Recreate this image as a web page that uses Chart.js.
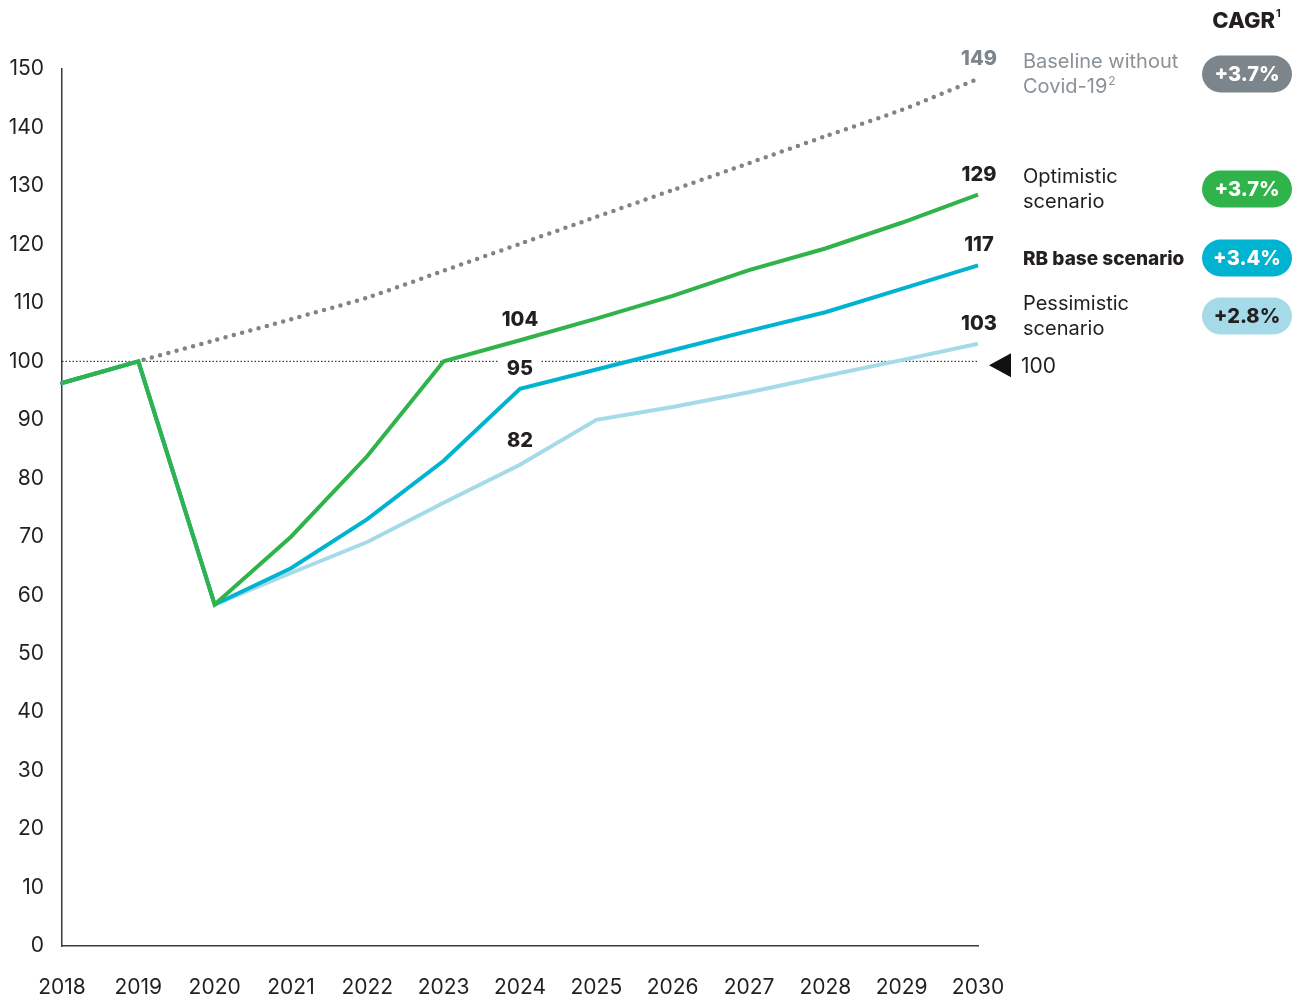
<!DOCTYPE html>
<html>
<head>
<meta charset="utf-8">
<script src="https://cdn.jsdelivr.net/npm/chart.js@4.4.1/dist/chart.umd.min.js"></script>
<style>
  html, body { margin: 0; padding: 0; background: #ffffff; }
  #wrap { width: 1302px; height: 1000px; position: relative; }
</style>
</head>
<body>
<div id="wrap"><canvas id="c" width="1302" height="1000"></canvas></div>
<script>
// ---- data ----
const years = ['2018','2019','2020','2021','2022','2023','2024','2025','2026','2027','2028','2029','2030'];
const baseline    = [96.3, 100, 103.6, 107.2, 110.9, 115.5, 120.1, 124.7, 129.3, 133.9, 138.5, 143.0, 148.3];
const optimistic  = [96.3, 100, 58.4, 70.0, 83.8, 100.0, 103.6, 107.3, 111.2, 115.6, 119.3, 123.7, 128.5];
const rbBase      = [96.3, 100, 58.4, 64.6, 73.0, 83.0, 95.3, 98.6, 101.9, 105.2, 108.4, 112.4, 116.4];
const pessimistic = [96.3, 100, 58.4, 63.8, 69.1, 75.8, 82.3, 90.0, 92.2, 94.7, 97.5, 100.2, 103.0];
const referenceValue = 100;
const yTicks = [0,10,20,30,40,50,60,70,80,90,100,110,120,130,140,150];
const endLabels = ['129','117','103','149'];      // per series at 2030 (optimistic, base, pessimistic, baseline)
const midLabels = ['104','95','82'];             // at 2024 (optimistic, base, pessimistic)
const midLabelIndex = 6;
const seriesNames = ['Baseline without|Covid-19²', 'Optimistic|scenario', 'RB base scenario', 'Pessimistic|scenario'];
const cagrValues = ['+3.7%', '+3.7%', '+3.4%', '+2.8%'];
const cagrTitle = 'CAGR';

// ---- styles ----
const C_GREEN = '#2fb34a';
const C_CYAN = '#00b3d1';
const C_LIGHT = '#a5dbe8';
const C_GRAY = '#7d858c';
const C_TEXT = '#231f20';
const FONT = 'Inter, "Noto Sans", sans-serif';

const labelPlugin = {
  id: 'labels',
  afterDatasetsDraw(chart) {
    const ctx = chart.ctx;
    const ys = chart.scales.y;
    ctx.save();
    ctx.textAlign = 'center';
    ctx.textBaseline = 'middle';
    ctx.font = '800 20px ' + FONT;
    // end labels
    const endColors = [C_TEXT, C_TEXT, C_TEXT, '#7d858c'];
    [0,1,2,3].forEach((di, k) => {
      const meta = chart.getDatasetMeta(di);
      const pt = meta.data[meta.data.length - 1];
      ctx.fillStyle = endColors[k];
      ctx.fillText(endLabels[k], pt.x + 1, pt.y - 20);
    });
    // mid labels with white backing
    [0,1,2].forEach((di, k) => {
      const meta = chart.getDatasetMeta(di);
      const pt = meta.data[midLabelIndex];
      const ty = pt.y - (k === 2 ? 24 : 20);
      const w = ctx.measureText(midLabels[k]).width;
      ctx.fillStyle = '#ffffff';
      ctx.fillRect(pt.x - w/2 - 8, ty - 9, w + 16, 18);
      ctx.fillStyle = C_TEXT;
      ctx.fillText(midLabels[k], pt.x, ty);
    });

    // reference arrow + label
    const y100 = ys.getPixelForValue(referenceValue);
    ctx.fillStyle = '#111111';
    ctx.beginPath();
    ctx.moveTo(989, y100 + 4);
    ctx.lineTo(1011, y100 - 8);
    ctx.lineTo(1011, y100 + 16);
    ctx.closePath();
    ctx.fill();
    ctx.textAlign = 'left';
    ctx.font = '400 21px ' + FONT;
    ctx.fillStyle = C_TEXT;
    ctx.fillText(String(referenceValue), 1021, y100 + 5);

    // CAGR title
    ctx.font = '800 22px ' + FONT;
    ctx.textAlign = 'right';
    ctx.fillText(cagrTitle, 1275, 21);
    ctx.font = '700 11px ' + FONT;
    ctx.textAlign = 'left';
    ctx.fillText('1', 1276, 14);

    // legend rows
    const rows = [
      {y: 74, color: '#8a9197', bold: false, pill: C_GRAY, pillText: '#ffffff'},
      {y: 189, color: C_TEXT, bold: false, pill: C_GREEN, pillText: '#ffffff'},
      {y: 258, color: C_TEXT, bold: true, pill: C_CYAN, pillText: '#ffffff'},
      {y: 316, color: C_TEXT, bold: false, pill: C_LIGHT, pillText: C_TEXT},
    ];
    rows.forEach((r, i) => {
      const lines = seriesNames[i].split('|');
      ctx.fillStyle = r.color;
      ctx.textAlign = 'left';
      ctx.textBaseline = 'middle';
      const f = (r.bold ? '800 19px ' : '400 20px ') + FONT;
      ctx.font = f;
      if (lines.length === 1) {
        ctx.fillText(lines[0], 1023, r.y + 1);
      } else {
        lines.forEach((ln, j) => {
          const ly = r.y - 12 + j * 25;
          if (ln.endsWith('²')) {
            const base = ln.slice(0, -1);
            ctx.fillText(base, 1023, ly);
            const w = ctx.measureText(base).width;
            ctx.font = '400 12px ' + FONT;
            ctx.fillText('2', 1023 + w + 1, ly - 6);
            ctx.font = f;
          } else {
            ctx.fillText(ln, 1023, ly);
          }
        });
      }
      // pill
      const px = 1202, pw = 90, ph = 37, py = r.y - ph/2;
      ctx.fillStyle = r.pill;
      ctx.beginPath();
      ctx.roundRect(px, py, pw, ph, ph/2);
      ctx.fill();
      ctx.fillStyle = r.pillText;
      ctx.textAlign = 'center';
      ctx.font = '800 20px ' + FONT;
      ctx.fillText(cagrValues[i], px + pw/2, r.y + 1);
    });
    ctx.restore();
  }
};

new Chart(document.getElementById('c'), {
  type: 'line',
  data: {
    labels: years,
    datasets: [
      { label: 'Optimistic scenario', data: optimistic, borderColor: C_GREEN, borderWidth: 4, pointRadius: 0, tension: 0, fill: false },
      { label: 'RB base scenario', data: rbBase, borderColor: C_CYAN, borderWidth: 4, pointRadius: 0, tension: 0, fill: false },
      { label: 'Pessimistic scenario', data: pessimistic, borderColor: C_LIGHT, borderWidth: 4, pointRadius: 0, tension: 0, fill: false },
      { label: 'Baseline without Covid-19', data: baseline, borderColor: C_GRAY, borderWidth: 4.5, borderDash: [0, 8.5], borderCapStyle: 'round', pointRadius: 0, tension: 0.2, fill: false },
      { label: 'Reference', data: years.map(() => referenceValue), borderColor: '#111111', borderWidth: 1, borderDash: [1.5, 2], pointRadius: 0, tension: 0, fill: false },
    ]
  },
  options: {
    responsive: false,
    devicePixelRatio: 1,
    animation: false,
    layout: { padding: { top: 69, right: 324, left: 0, bottom: 0 } },
    plugins: { legend: { display: false }, tooltip: { enabled: false } },
    scales: {
      x: {
        offset: false,
        grid: { display: false, drawTicks: false },
        border: { display: true, color: '#3a3a3a', width: 1.5 },
        ticks: { color: C_TEXT, font: { family: FONT, size: 21 }, padding: 29, maxRotation: 0, autoSkip: false },
        afterFit(s) { s.height = 54; }
      },
      y: {
        min: 0, max: 150,
        afterBuildTicks(s) { s.ticks = yTicks.map(v => ({ value: v })); },
        grid: { display: false, drawTicks: false },
        border: { display: true, color: '#3a3a3a', width: 1.5 },
        ticks: { color: C_TEXT, font: { family: FONT, size: 21 }, padding: 18 },
        afterFit(s) { s.width = 62; }
      }
    }
  },
  plugins: [labelPlugin]
});
</script>
</body>
</html>
